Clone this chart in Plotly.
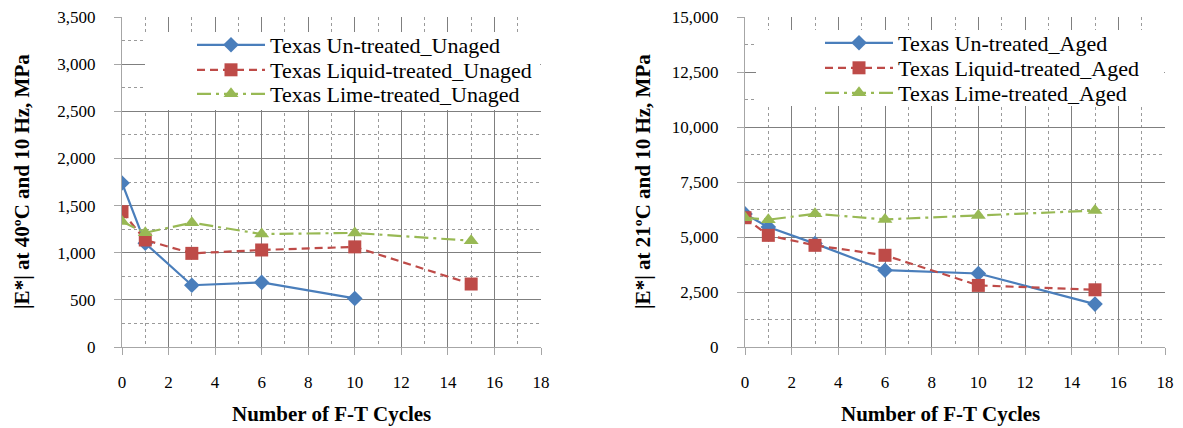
import plotly.graph_objects as go

# ---- data ----
cycles_untreated_unaged = [0, 1, 3, 6, 10]
untreated_unaged = [1740, 1100, 655, 685, 515]
cycles = [0, 1, 3, 6, 10, 15]
liquid_unaged = [1435, 1135, 993, 1029, 1062, 668]
lime_unaged = [1330, 1212, 1318, 1198, 1210, 1127]

untreated_aged = [6050, 5450, 4700, 3490, 3340, 1950]
liquid_aged = [5876, 5075, 4622, 4169, 2800, 2600]
lime_aged = [5876, 5786, 6057, 5800, 5980, 6200]

x_ticks = [0, 2, 4, 6, 8, 10, 12, 14, 16, 18]
y_ticks_left = [0, 500, 1000, 1500, 2000, 2500, 3000, 3500]
y_ticks_right = [0, 2500, 5000, 7500, 10000, 12500, 15000]

names_left = ["Texas Un-treated_Unaged", "Texas Liquid-treated_Unaged", "Texas Lime-treated_Unaged"]
names_right = ["Texas Un-treated_Aged", "Texas Liquid-treated_Aged", "Texas Lime-treated_Aged"]
ytitle_left = "|E*| at 40ºC and 10 Hz, MPa"
ytitle_right = "|E*| at 21ºC and 10 Hz, MPa"
xtitle = "Number of F-T Cycles"

BLUE = "#4a7ebb"
RED = "#be4b48"
GREEN = "#98b954"
FONT = "Liberation Serif"

W, H = 1183, 428
def px(x):
    return x / W
def py(y):
    return 1 - y / H

fig = go.Figure()

def add_series(xs, ys, name, color, dash, symbol, size, xa, ya, legend):
    fig.add_trace(go.Scatter(
        x=xs, y=ys, name=name, mode="lines+markers",
        line=dict(color=color, width=2.2, dash=dash),
        marker=dict(symbol=symbol, size=size, color=color),
        xaxis=xa, yaxis=ya, legend=legend))

DASH_R = "8px,5px"
DASH_G = "14px,5px,3px,5px"
add_series(cycles_untreated_unaged, untreated_unaged, names_left[0], BLUE, "solid", "diamond", 12, "x", "y", "legend")
add_series(cycles, liquid_unaged, names_left[1], RED, DASH_R, "square", 13, "x", "y", "legend2")
add_series(cycles, lime_unaged, names_left[2], GREEN, DASH_G, "triangle-up", 13, "x", "y", "legend3")

add_series(cycles, untreated_aged, names_right[0], BLUE, "solid", "diamond", 12, "x2", "y2", "legend4")
add_series(cycles, liquid_aged, names_right[1], RED, DASH_R, "square", 13, "x2", "y2", "legend5")
add_series(cycles, lime_aged, names_right[2], GREEN, DASH_G, "triangle-up", 13, "x2", "y2", "legend6")

GRID = "#7f7f7f"
MINOR = "#9a9a9a"
AXIS = "#a6a6a6"
tickfont = dict(family=FONT, size=17, color="#000000")

def xaxis_cfg(domain, anchor):
    return dict(domain=domain, anchor=anchor, range=[0, 18], tickmode="array", tickvals=x_ticks,
                showgrid=True, gridcolor=GRID, gridwidth=1, zeroline=False, showline=True,
                linecolor=AXIS, linewidth=1, ticks="outside", ticklen=7, tickcolor=AXIS,
                tickfont=tickfont, ticklabelstandoff=13, ticklabeloverflow="allow", automargin=False,
                minor=dict(dtick=1, showgrid=True, gridcolor=MINOR, griddash="dot", gridwidth=1))

def yaxis_cfg(domain, anchor, rng, tv, minor):
    return dict(domain=domain, anchor=anchor, range=rng, tickmode="array", tickvals=tv,
                ticktext=[f"{v:,}" for v in tv], showgrid=True,
                gridcolor=GRID, gridwidth=1, zeroline=False, showline=True,
                linecolor=AXIS, linewidth=1, ticks="outside", ticklen=7, tickcolor=AXIS,
                tickfont=tickfont, ticklabelstandoff=15, ticklabeloverflow="allow", automargin=False,
                minor=dict(dtick=minor, showgrid=True, gridcolor=MINOR, griddash="dot", gridwidth=1))

ydom = [py(347), py(17)]
legfont = dict(family=FONT, size=22, color="#000")

def leg(xpix, ypix):
    return dict(x=px(xpix), y=py(ypix), xanchor="left", yanchor="middle",
                bgcolor="rgba(0,0,0,0)", font=legfont, itemwidth=68,
                borderwidth=0)

fig.update_layout(
    width=W, height=H, margin=dict(l=0, r=0, t=0, b=0, autoexpand=False),
    paper_bgcolor="white", plot_bgcolor="white",
    xaxis=xaxis_cfg([px(122), px(541)], "y"),
    yaxis=yaxis_cfg(ydom, "x", [0, 3500], y_ticks_left, 250),
    xaxis2=xaxis_cfg([px(745), px(1165)], "y2"),
    yaxis2=yaxis_cfg(ydom, "x2", [0, 15000], y_ticks_right, 1250),
    legend=leg(192, 45),
    legend2=leg(192, 70),
    legend3=leg(192, 94),
    legend4=leg(820, 43),
    legend5=leg(820, 68),
    legend6=leg(820, 93),
    showlegend=True,
)

# white legend backgrounds covering grid (no data passes through these regions)
fig.add_shape(type="rect", xref="x domain", yref="y domain", x0=(145-122)/419, x1=0.998,
              y0=(347-110)/330, y1=(347-32)/330,
              fillcolor="white", line=dict(width=0), layer="above")
fig.add_shape(type="rect", xref="x2 domain", yref="y2 domain", x0=(756-745)/420, x1=0.998,
              y0=(347-106)/330, y1=(347-30)/330,
              fillcolor="white", line=dict(width=0), layer="above")

titlefont = dict(family=FONT, size=21, color="#000", weight="bold")
fig.add_annotation(text=xtitle, xref="paper", yref="paper", x=px(331), y=py(414), showarrow=False,
                   font=titlefont, xanchor="center", yanchor="middle")
fig.add_annotation(text=xtitle, xref="paper", yref="paper", x=px(940), y=py(414), showarrow=False,
                   font=titlefont, xanchor="center", yanchor="middle")
fig.add_annotation(text=ytitle_left, xref="paper", yref="paper", x=px(22), y=py(182), showarrow=False,
                   font=titlefont, textangle=-90, xanchor="center", yanchor="middle")
fig.add_annotation(text=ytitle_right, xref="paper", yref="paper", x=px(643), y=py(182), showarrow=False,
                   font=titlefont, textangle=-90, xanchor="center", yanchor="middle")

fig.write_html("out.html", config={"displayModeBar": False},
               post_script="document.body.style.margin='0px';document.body.style.overflow='hidden';")
